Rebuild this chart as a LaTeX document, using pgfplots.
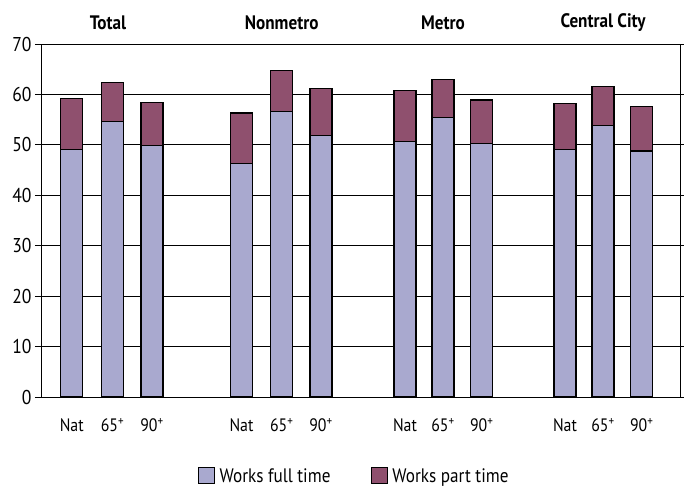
\documentclass[border=0pt]{standalone}
\usepackage{fontspec}
\setmainfont{PT Sans}[FakeStretch=0.88]
\usepackage{pgfplots}
\pgfplotsset{compat=1.18}
\definecolor{fullc}{RGB}{169,169,207}
\definecolor{partc}{RGB}{143,80,110}
\begin{document}
\begin{tikzpicture}
\useasboundingbox (-41pt,-92pt) rectangle (643pt,397pt);
\begin{axis}[
  at={(0,0)}, anchor=south west,
  scale only axis, width=639pt, height=353pt,
  xmin=0, xmax=639, ymin=0, ymax=70,
  ybar stacked, bar width=22,
  ytick={0,10,...,70},
  ymajorgrids, grid style={black, line width=0.8pt},
  axis line style={black, line width=0.9pt},
  tick align=outside, major tick length=6pt,
  ytick style={black, line width=0.8pt},
  xtick style={draw=none},
  xtick=data,
  xticklabels={Nat,65\textsuperscript{+},90\textsuperscript{+},Nat,65\textsuperscript{+},90\textsuperscript{+},Nat,65\textsuperscript{+},90\textsuperscript{+},Nat,65\textsuperscript{+},90\textsuperscript{+}},
  /pgf/number format/assume math mode=true,
  yticklabel style={font=\fontsize{20}{20}\selectfont, xshift=0pt},
  xticklabel style={font=\fontsize{18}{18}\selectfont, yshift=-12pt},
  clip=false,
  legend style={at={(0.49,-0.19)}, anchor=north, draw=none, legend columns=2,
    font=\fontsize{19.5}{19.5}\selectfont,
    /tikz/every odd column/.append style={column sep=3pt},
    /tikz/every even column/.append style={column sep=38pt}},
  legend image code/.code={\draw[#1, line width=0.9pt] (0pt,-8pt) rectangle (16pt,8pt);},
]
\addplot[fill=fullc, draw=black, line width=1.2pt] coordinates {
(30.7,49.15) (71.5,54.6) (111,49.9)
(200.5,46.3) (240.7,56.6) (280,51.85)
(364,50.6) (402,55.4) (440.7,50.2)
(524,49.15) (562,53.8) (600.7,48.8)};
\addplot[fill=partc, draw=black, line width=1.2pt] coordinates {
(30.7,10.05) (71.5,7.7) (111,8.45)
(200.5,10.0) (240.7,8.2) (280,9.25)
(364,10.25) (402,7.6) (440.7,8.7)
(524,9.05) (562,7.85) (600.7,8.75)};
\legend{Works full time, Works part time}
\node[font=\fontsize{19.5}{19.5}\selectfont\bfseries] at (axis cs:67,70) [yshift=21pt] {Total};
\node[font=\fontsize{19.5}{19.5}\selectfont\bfseries] at (axis cs:240.7,70) [yshift=21pt] {Nonmetro};
\node[font=\fontsize{19.5}{19.5}\selectfont\bfseries] at (axis cs:402,70) [yshift=21pt] {Metro};
\node[font=\fontsize{19.5}{19.5}\selectfont\bfseries] at (axis cs:562,70) [yshift=21pt] {Central City};
\end{axis}
\end{tikzpicture}
\end{document}
